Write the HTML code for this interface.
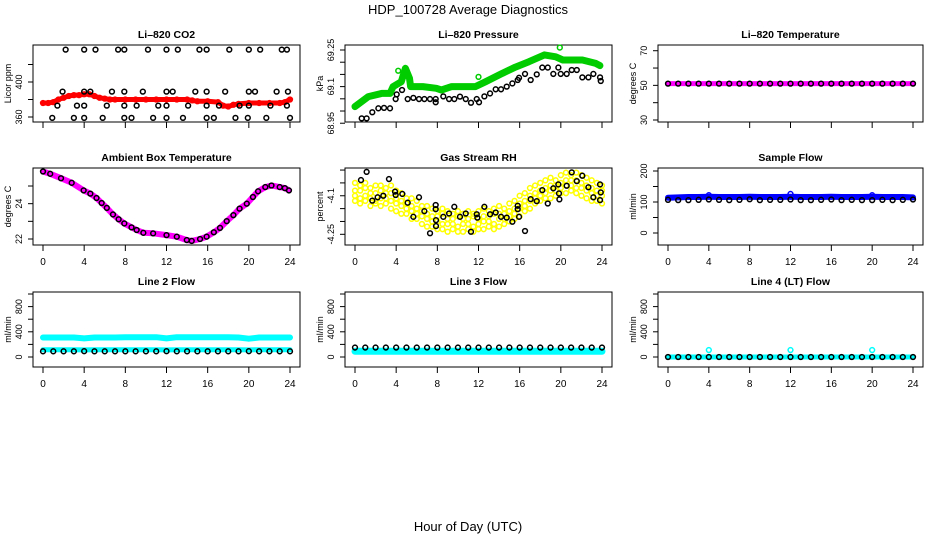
<!DOCTYPE html>
<html><head><meta charset="utf-8"><style>
html,body{margin:0;padding:0;background:#fff;}
svg{display:block;font-family:"Liberation Sans",Arial,sans-serif;}
</style></head><body>
<svg id="fig" width="936" height="540" viewBox="0 0 936 540">
<text x="468" y="14" text-anchor="middle" font-size="13">HDP_100728  Average Diagnostics</text>
<text x="468" y="531" text-anchor="middle" font-size="13">Hour of Day (UTC)</text>
</svg>
<script>
// ---------- data ----------
const co2Hours=[2.2,4.0,5.1,7.3,7.9,10.2,12.0,13.1,15.2,15.9,18.1,20.0,21.1,23.2,23.7,
1.9,4.0,4.6,6.7,7.9,9.7,12.0,12.6,14.8,15.9,17.7,20.0,20.6,22.7,23.8,
1.4,3.3,4.0,6.2,7.9,9.1,11.2,12.0,14.1,15.9,17.1,19.1,20.0,22.1,23.7,
0.9,3.0,4.0,5.8,7.9,8.6,10.7,12.0,13.6,15.9,16.6,18.7,19.9,21.7,24.0];
const co2Black=[437,437,437,437,437,437,437,437,437,437,437,437,437,437,437,
389,389,389,389,389,389,389,389,389,389,389,389,389,389,389,
373,373,373,373,373,373,373,373,373,373,373,373,373,373,373,
359,359,359,359,359,359,359,359,359,359,359,359,359,359,359];
const co2RedHours=[0,0.5,1,1.5,2,2.5,3,3.5,4,4.5,5,5.5,6,6.5,7,8,9,10,11,12,13,14,14.5,15,16,17,17.5,18,18.5,19,20,21,22,23,23.5,24];
const co2Red=[376,376,377,380,382,384,385,385,386,386,384,382,381,380,380,380,380,380,380,380,380,380,379,378,378,377,373,372,374,375,376,376,376,376,377,380];

const presGreenHours=[0,1.3,2.6,3.4,3.7,4.5,4.9,5.3,5.4,6.6,7.9,8.4,9.4,11.7,12.7,14.3,15.6,16.9,18.4,19.5,20.2,22.1,23.4,23.8];
const presGreen=[69.018,69.059,69.072,69.072,69.10,69.12,69.175,69.134,69.10,69.10,69.093,69.086,69.10,69.10,69.12,69.154,69.18,69.202,69.23,69.222,69.209,69.209,69.195,69.186];
const presOutHours=[4.2,12.0,19.9];
const presOut=[69.165,69.14,69.26];
const presBlackHours=[0.65,1.13,1.68,2.27,2.82,3.40,3.95,4.05,4.57,5.12,5.67,6.22,6.74,7.29,7.84,7.84,8.58,9.14,9.65,10.2,10.76,11.27,11.83,12.05,12.57,13.12,13.67,14.19,14.74,15.29,15.81,15.94,16.52,17.07,17.66,18.20,18.73,19.27,19.76,19.99,20.57,21.06,21.55,22.09,22.68,23.16,23.81,23.88];
const presBlack=[68.970,68.970,68.995,69.011,69.013,69.011,69.049,69.068,69.086,69.049,69.054,69.049,69.049,69.049,69.036,69.049,69.060,69.049,69.049,69.059,69.049,69.034,69.049,69.036,69.060,69.072,69.089,69.089,69.100,69.113,69.127,69.136,69.152,69.127,69.150,69.178,69.178,69.152,69.178,69.152,69.152,69.168,69.168,69.138,69.138,69.152,69.138,69.123];

const hourly=[0,1,2,3,4,5,6,7,8,9,10,11,12,13,14,15,16,17,18,19,20,21,22,23,24];
const tempMag=[51,51,51,51,51,51,51,51,51,51,51,51,51,51,51,51,51,51,51,51,51,51,51,51,51];
const tempBlack=[51,51,51,51,51,51,51,51,51,51,51,51,51,51,51,51,51,51,51,51,51,51,51,51,51];

const ambHours=[0,0.7,1.75,2.79,3.95,4.6,5.2,5.7,6.2,6.8,7.35,7.9,8.6,9.1,9.75,10.7,12,13,13.97,14.45,15.26,15.9,16.6,17.2,17.85,18.5,19.1,19.8,20.4,20.9,21.6,22.2,23.0,23.5,23.9];
const ambVals=[25.82,25.69,25.44,25.18,24.75,24.57,24.32,24.04,23.76,23.39,23.12,22.88,22.66,22.51,22.35,22.32,22.22,22.13,21.94,21.89,22.0,22.13,22.38,22.63,23.01,23.35,23.72,24.0,24.38,24.70,24.94,25.03,24.94,24.88,24.75];

const rhYelA=[-4.05,-4.06,-4.05,-4.07,-4.06,-4.06,-4.07,-4.06,-4.08,-4.09,-4.11,-4.11,-4.12,-4.14,-4.14,-4.15,-4.16,-4.15,-4.16,-4.17,-4.16,-4.17,-4.16,-4.17,-4.16,-4.15,-4.16,-4.15,-4.14,-4.15,-4.13,-4.12,-4.10,-4.09,-4.07,-4.06,-4.05,-4.04,-4.03,-4.04,-4.02,-4.01,-4.02,-4.01,-4.02,-4.03,-4.04,-4.05,-4.06];
const rhYelB=[-4.08,-4.08,-4.07,-4.09,-4.09,-4.08,-4.09,-4.09,-4.11,-4.12,-4.13,-4.14,-4.15,-4.16,-4.17,-4.18,-4.18,-4.17,-4.19,-4.19,-4.18,-4.19,-4.19,-4.18,-4.19,-4.18,-4.18,-4.17,-4.17,-4.17,-4.16,-4.15,-4.13,-4.12,-4.10,-4.09,-4.08,-4.07,-4.06,-4.06,-4.05,-4.04,-4.04,-4.04,-4.05,-4.06,-4.07,-4.08,-4.08];
const rhYelC=[-4.10,-4.11,-4.10,-4.11,-4.12,-4.11,-4.11,-4.12,-4.13,-4.14,-4.15,-4.16,-4.17,-4.18,-4.19,-4.20,-4.20,-4.21,-4.21,-4.21,-4.22,-4.21,-4.21,-4.22,-4.21,-4.20,-4.20,-4.21,-4.19,-4.19,-4.18,-4.17,-4.15,-4.14,-4.12,-4.11,-4.10,-4.09,-4.08,-4.08,-4.07,-4.06,-4.06,-4.07,-4.07,-4.08,-4.09,-4.10,-4.10];
const rhYelD=[-4.12,-4.13,-4.12,-4.14,-4.13,-4.14,-4.13,-4.15,-4.16,-4.17,-4.17,-4.19,-4.19,-4.21,-4.22,-4.22,-4.23,-4.23,-4.24,-4.23,-4.24,-4.24,-4.23,-4.24,-4.23,-4.23,-4.22,-4.23,-4.22,-4.21,-4.20,-4.19,-4.18,-4.16,-4.15,-4.13,-4.12,-4.11,-4.11,-4.10,-4.09,-4.09,-4.08,-4.09,-4.10,-4.11,-4.12,-4.12,-4.13];
const rhYelHours=[0,0.5,1,1.5,2,2.5,3,3.5,4,4.5,5,5.5,6,6.5,7,7.5,8,8.5,9,9.5,10,10.5,11,11.5,12,12.5,13,13.5,14,14.5,15,15.5,16,16.5,17,17.5,18,18.5,19,19.5,20,20.5,21,21.5,22,22.5,23,23.5,24];
const rhBlackHours=[1.13,0.58,1.68,2.20,2.75,3.30,3.89,3.95,4.60,5.12,5.67,6.22,6.74,7.84,7.84,7.87,7.87,7.29,8.58,9.14,9.65,10.20,10.76,11.27,11.83,11.89,12.57,13.12,13.67,14.19,14.74,15.29,15.81,15.81,15.94,16.52,17.07,17.66,18.20,18.73,19.27,19.76,19.82,19.86,20.57,21.06,21.55,22.09,22.68,23.16,23.81,23.88,23.81];
const rhBlack=[-4.007,-4.039,-4.119,-4.106,-4.100,-4.035,-4.084,-4.097,-4.093,-4.127,-4.182,-4.106,-4.160,-4.136,-4.152,-4.195,-4.218,-4.246,-4.182,-4.169,-4.143,-4.182,-4.169,-4.240,-4.172,-4.185,-4.143,-4.172,-4.165,-4.182,-4.185,-4.201,-4.139,-4.152,-4.182,-4.237,-4.113,-4.121,-4.078,-4.130,-4.071,-4.056,-4.091,-4.114,-4.061,-4.009,-4.043,-4.022,-4.067,-4.106,-4.056,-4.087,-4.117];

const sfBlue=[114,115,116,116,117,116,116,116,117,116,116,116,117,116,116,116,117,116,116,116,117,116,116,116,115];
const sfBlack=[107,106,106,107,108,107,106,107,109,106,107,107,108,106,106,107,108,106,107,106,106,107,106,107,108];
const sfOutHours=[4,12,20];
const sfOut=[122,126,122];

const l2CyanHi=[310,310,310,310,295,310,310,310,312,315,315,315,295,315,315,315,312,312,312,310,290,310,310,310,310];
const l2CyanLo=[115,115,115,115,112,115,115,115,115,115,115,115,112,115,115,115,115,115,115,115,112,115,115,115,115];
const l2Black=[90,90,90,90,92,90,90,90,90,90,90,90,92,90,90,90,90,90,90,90,92,90,90,90,90];
const l3Cyan=[90,90,90,90,90,90,90,90,90,90,90,90,90,90,90,90,90,90,90,90,90,90,90,90,90];
const l3Black=[150,150,150,150,150,150,150,150,150,150,150,150,150,150,150,150,150,150,150,150,150,150,150,150,150];
const l4Cyan=[0,0,0,0,0,0,0,0,0,0,0,0,0,0,0,0,0,0,0,0,0,0,0,0,0];
const l4Black=[0,0,0,0,0,0,0,0,0,0,0,0,0,0,0,0,0,0,0,0,0,0,0,0,0];
const l4OutHours=[4,12,20];
const l4Out=[110,110,110];

const xTicks=[0,4,8,12,16,20,24];
// ---------- drawing ----------
const NS='http://www.w3.org/2000/svg';
const svg=document.getElementById('fig');
function el(tag,parent){const e=document.createElementNS(NS,tag);parent.appendChild(e);return e;}
const cols=[[33,300],[345,612],[658,923]];
const rows=[[45,122],[168,245],[292,367]];

function panel(c,r,name,title,ylab,ylim,ticks,labels,showX){
  const [L,R]=cols[c],[T,B]=rows[r];
  const g=el('g',svg);
  
  
  const sx=h=>L+10+(h/24)*(R-L-20);
  const sy=v=>B-(v-ylim[0])/(ylim[1]-ylim[0])*(B-T);
  const t=el('text',g);t.textContent=title;
  t.setAttribute('x',(L+R)/2);t.setAttribute('y',T-7);t.setAttribute('text-anchor','middle');
  t.setAttribute('font-size','10.5');t.setAttribute('font-weight','bold');
  
  
  const yl=el('text',g);yl.textContent=ylab;
  const ycx=L-22, ycy=(T+B)/2;
  yl.setAttribute('transform','translate('+ycx+','+ycy+') rotate(-90)');yl.setAttribute('text-anchor','middle');yl.setAttribute('font-size','9');
  
  
  ticks.forEach(v=>{const y=sy(v);const tk=el('line',g);
    tk.setAttribute('x1',L);tk.setAttribute('x2',L-5);tk.setAttribute('y1',y);tk.setAttribute('y2',y);tk.setAttribute('stroke','#000');
    
    });
  labels.forEach(v=>{const y=sy(v);const tl=el('text',g);tl.textContent=String(v);
    tl.setAttribute('transform','translate('+(L-11)+','+y+') rotate(-90)');tl.setAttribute('text-anchor','middle');tl.setAttribute('font-size','9');
    
    });
  xTicks.forEach(h=>{const x=sx(h);const tk=el('line',g);
    tk.setAttribute('x1',x);tk.setAttribute('x2',x);tk.setAttribute('y1',B);tk.setAttribute('y2',B+6);tk.setAttribute('stroke','#000');
    
    
    if(showX){const tl=el('text',g);tl.textContent=String(h);tl.setAttribute('x',x);tl.setAttribute('y',B+20);tl.setAttribute('text-anchor','middle');tl.setAttribute('font-size','10');
      
      }});
  const box=el('rect',g);box.setAttribute('x',L);box.setAttribute('y',T);box.setAttribute('width',R-L);box.setAttribute('height',B-T);
  box.setAttribute('fill','none');box.setAttribute('stroke','#000');
  
  
  return {g,sx,sy};
}
function band(p,hrs,vals,color,w,name){
  const pts=hrs.map((h,i)=>p.sx(h).toFixed(1)+','+p.sy(vals[i]).toFixed(1)).join(' ');
  const pl=el('polyline',p.g);pl.setAttribute('points',pts);pl.setAttribute('fill','none');pl.setAttribute('stroke',color);
  pl.setAttribute('stroke-width',w);pl.setAttribute('stroke-linejoin','round');pl.setAttribute('stroke-linecap','round');
  
  
}
function pts(p,hrs,vals,color,name){
  hrs.forEach((h,i)=>{const c=el('circle',p.g);c.setAttribute('cx',p.sx(h));c.setAttribute('cy',p.sy(vals[i]));c.setAttribute('r',2.4);
    c.setAttribute('fill','none');c.setAttribute('stroke',color);c.setAttribute('stroke-width',1.5);
    
    });
}
// Panel 1
let p=panel(0,0,'co2-panel','Li\u2013820 CO2','Licor ppm',[354.3,442.3],[360,380,400,420],[360,400],false);
band(p,co2RedHours,co2Red,'#ff0000',5,'co2-red-series');
pts(p,co2RedHours,co2Red,'#ff0000','co2-red-point');
pts(p,co2Hours,co2Black,'#000','co2-black-point');
// Panel 2
p=panel(1,0,'pressure-panel','Li\u2013820 Pressure','kPa',[68.955,69.2705],[68.95,69.0,69.05,69.1,69.15,69.2,69.25],[68.95,69.10,69.25],false);
band(p,presGreenHours,presGreen,'#00cc00',7,'pressure-green-series');
pts(p,presGreenHours,presGreen,'#00cc00','pressure-green-point');
pts(p,presOutHours,presOut,'#00cc00','pressure-green-outlier');
pts(p,presBlackHours,presBlack,'#000','pressure-black-point');
// Panel 3
p=panel(2,0,'temperature-panel','Li\u2013820 Temperature','degrees C',[28.85,73.3],[30,40,50,60,70],[30,50,70],false);
band(p,hourly,tempMag,'#ff00ff',5,'temperature-magenta-series');
pts(p,hourly,tempBlack,'#000','temperature-black-point');
// Panel 4
p=panel(0,1,'ambient-panel','Ambient Box Temperature','degrees C',[21.66,26.02],[22,23,24,25],[22,24],true);
band(p,ambHours,ambVals,'#ff00ff',6,'ambient-magenta-series');
pts(p,ambHours,ambVals,'#000','ambient-black-point');
// Panel 5
p=panel(1,1,'rh-panel','Gas Stream RH','percent',[-4.2916,-3.992],[-4.25,-4.2,-4.15,-4.1,-4.05,-4.0],[-4.25,-4.10],true);
pts(p,rhYelHours,rhYelA,'#ffff00','rh-yellow-point');
pts(p,rhYelHours,rhYelB,'#ffff00','rh-yellow-point');
pts(p,rhYelHours,rhYelC,'#ffff00','rh-yellow-point');
pts(p,rhYelHours,rhYelD,'#ffff00','rh-yellow-point');
pts(p,rhBlackHours,rhBlack,'#000','rh-black-point');
// Panel 6
p=panel(2,1,'sample-flow-panel','Sample Flow','ml/min',[-38.7,209.7],[0,50,100,150,200],[0,100,200],true);
band(p,hourly,sfBlue,'#0000ff',6,'sample-flow-blue-series');
pts(p,sfOutHours,sfOut,'#0000ff','sample-flow-blue-outlier');
pts(p,hourly,sfBlack,'#000','sample-flow-black-point');
// Panel 7
p=panel(0,2,'line2-flow-panel','Line 2 Flow','ml/min',[-159,1032],[0,200,400,600,800,1000],[0,400,800],true);
band(p,hourly,l2CyanHi,'#00ffff',6,'line2-cyan-high-series');
band(p,hourly,l2CyanLo,'#00ffff',5,'line2-cyan-low-series');
pts(p,hourly,l2Black,'#000','line2-black-point');
// Panel 8
p=panel(1,2,'line3-flow-panel','Line 3 Flow','ml/min',[-159,1032],[0,200,400,600,800,1000],[0,400,800],true);
band(p,hourly,l3Cyan,'#00ffff',7,'line3-cyan-series');
pts(p,hourly,l3Black,'#000','line3-black-point');
// Panel 9
p=panel(2,2,'line4-flow-panel','Line 4 (LT) Flow','ml/min',[-159,1032],[0,200,400,600,800,1000],[0,400,800],true);
band(p,hourly,l4Cyan,'#00ffff',5,'line4-cyan-series');
pts(p,l4OutHours,l4Out,'#00ffff','line4-cyan-outlier');
pts(p,hourly,l4Black,'#000','line4-black-point');
</script>
</body></html>
